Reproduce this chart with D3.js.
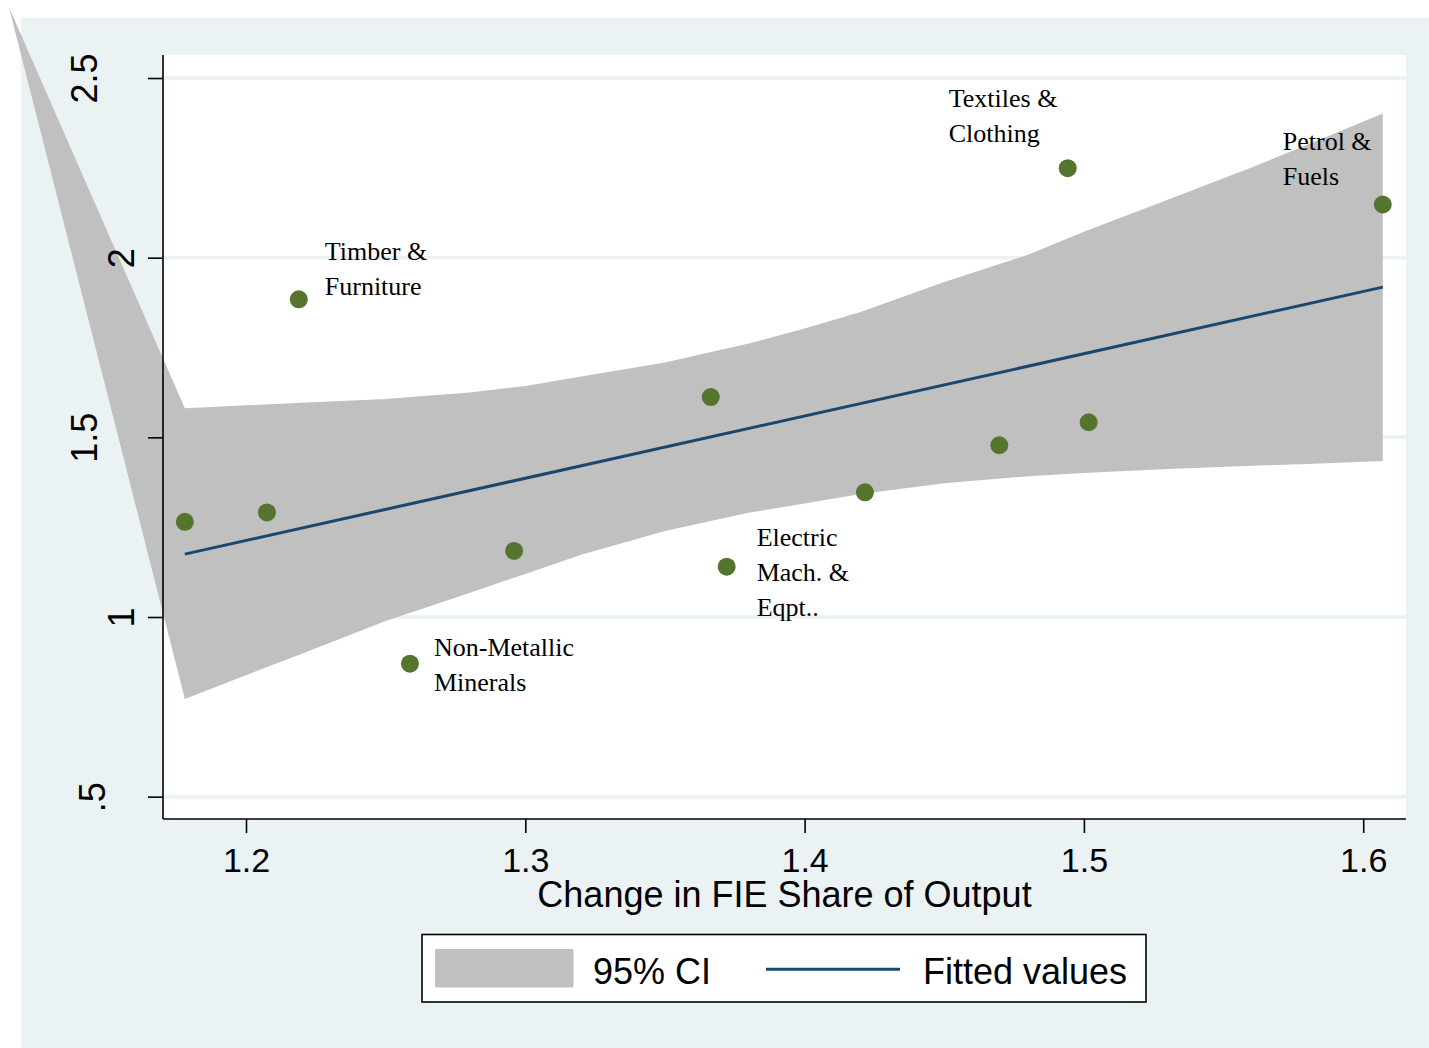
<!DOCTYPE html>
<html>
<head>
<meta charset="utf-8">
<script src="https://cdn.jsdelivr.net/npm/d3@7"></script>
<style>
  html, body { margin: 0; padding: 0; background: #ffffff; }
  svg { display: block; }
</style>
</head>
<body>
<script>
// ---- Industry observations ----
const industries = ["", "", "Timber &\nFurniture", "Non-Metallic\nMinerals", "", "",
  "Electric\nMach. &\nEqpt..", "", "", "Textiles &\nClothing", "", "Petrol &\nFuels"];
const fieShareChange = [1.1781, 1.2075, 1.2189, 1.2587, 1.2960, 1.3664, 1.3721, 1.4216, 1.4697, 1.4942, 1.5017, 1.6070];
const outcome = [1.265, 1.291, 1.884, 0.870, 1.184, 1.612, 1.140, 1.347, 1.478, 2.249, 1.542, 2.148];

// ---- Linear fit (end points) ----
const fitX = [1.1781, 1.6070];
const fitY = [1.175, 1.918];

// ---- 95% confidence band ----
const ciX = [1.1781, 1.20, 1.22, 1.25, 1.28, 1.30, 1.32, 1.35, 1.38, 1.40, 1.42, 1.45, 1.48, 1.50, 1.53, 1.56, 1.58, 1.6070];
const ciUpper = [1.581, 1.589, 1.596, 1.607, 1.625, 1.643, 1.669, 1.708, 1.761, 1.803, 1.849, 1.932, 2.008, 2.072, 2.161, 2.251, 2.314, 2.401];
const ciLower = [0.772, 0.838, 0.898, 0.989, 1.067, 1.120, 1.173, 1.239, 1.290, 1.316, 1.342, 1.372, 1.392, 1.401, 1.412, 1.421, 1.426, 1.434];
// closing vertex of the band outline
const ciApex = [1.1151, 2.698];

// ---- Axes ----
const xTicks = [1.2, 1.3, 1.4, 1.5, 1.6];
const xTickLabels = ["1.2", "1.3", "1.4", "1.5", "1.6"];
const yTicks = [0.5, 1, 1.5, 2, 2.5];
const yTickLabels = [".5", "1", "1.5", "2", "2.5"];
const xTitle = "Change in FIE Share of Output";
const legendLabels = ["95% CI", "Fitted values"];

// ---- Layout ----
const W = 1429, H = 1048;
const plot = { left: 163, right: 1406, top: 55, bottom: 819 };
const colors = {
  outer: "#eaf2f3", grid: "#eaf2f3", band: "#c0c0c0",
  fit: "#1a476f", marker: "#55752f", text: "#000000"
};
// marker label placement (offset of first baseline from the marker, px)
const labelPlacement = {
  "Timber &\nFurniture": { dx: 26, dy: -39 },
  "Non-Metallic\nMinerals": { dx: 24, dy: -8 },
  "Electric\nMach. &\nEqpt..": { dx: 30, dy: -21 },
  "Textiles &\nClothing": { dx: -119, dy: -61 },
  "Petrol &\nFuels": { dx: -100, dy: -55 }
};
const labelLineHeight = 35;
// baseline x of rotated y tick labels by label length
const yLabelBaseX = { 1: 133.5, 2: 105, 3: 97 };

const svg = d3.select("body").append("svg")
  .attr("width", W).attr("height", H)
  .attr("viewBox", `0 0 ${W} ${H}`);

// outer graph region
svg.append("rect").attr("x", 21).attr("y", 18)
  .attr("width", W - 21).attr("height", H - 18)
  .attr("fill", colors.outer);

// plot region
svg.append("rect")
  .attr("x", plot.left).attr("y", plot.top)
  .attr("width", plot.right - plot.left).attr("height", plot.bottom - plot.top)
  .attr("fill", "#ffffff");

const x = d3.scaleLinear().domain([1.17028, 1.61532]).range([plot.left, plot.right]);
const y = d3.scaleLinear().domain([0.4378, 2.5641]).range([plot.bottom, plot.top]);

// gridlines
svg.append("g").selectAll("line").data(yTicks).join("line")
  .attr("x1", plot.left).attr("x2", plot.right)
  .attr("y1", d => y(d)).attr("y2", d => y(d))
  .attr("stroke", colors.grid).attr("stroke-width", 3.5);

// confidence band
const bandPts = ciX.map((v, i) => [v, ciLower[i]])
  .concat(ciX.map((v, i) => [v, ciUpper[i]]).reverse())
  .concat([ciApex]);
const lineGen = d3.line().x(d => x(d[0])).y(d => y(d[1]));
svg.append("path")
  .attr("d", lineGen(bandPts) + "Z")
  .attr("fill", colors.band);

// fitted line
svg.append("path")
  .attr("d", lineGen(fitX.map((v, i) => [v, fitY[i]])))
  .attr("fill", "none").attr("stroke", colors.fit).attr("stroke-width", 3);

// markers
svg.append("g").selectAll("circle").data(fieShareChange).join("circle")
  .attr("cx", d => x(d)).attr("cy", (d, i) => y(outcome[i]))
  .attr("r", 9).attr("fill", colors.marker);

// marker labels
const lbl = svg.append("g")
  .attr("font-family", "'Liberation Serif', 'Times New Roman', serif")
  .attr("font-size", 26).attr("fill", colors.text);
industries.forEach((name, i) => {
  if (!name) return;
  const p = labelPlacement[name];
  const t = lbl.append("text")
    .attr("x", x(fieShareChange[i]) + p.dx)
    .attr("y", y(outcome[i]) + p.dy);
  name.split("\n").forEach((line, k) => {
    t.append("tspan")
      .attr("x", x(fieShareChange[i]) + p.dx)
      .attr("y", y(outcome[i]) + p.dy + k * labelLineHeight)
      .text(line);
  });
});

// x axis
const xAxis = svg.append("g")
  .attr("transform", `translate(0,${plot.bottom})`)
  .call(d3.axisBottom(x).tickValues(xTicks).tickSize(14).tickSizeOuter(0)
    .tickFormat((d, i) => xTickLabels[i]));
xAxis.select(".domain").attr("stroke", "#000").attr("stroke-width", 1.6)
  .attr("d", `M${plot.left},0H${plot.right}`);
xAxis.selectAll(".tick line").attr("stroke", "#000").attr("stroke-width", 1.6);
xAxis.selectAll(".tick text")
  .attr("y", 53).attr("dy", 0)
  .attr("font-family", "'Liberation Sans', Arial, sans-serif")
  .attr("font-size", 34).attr("fill", colors.text);

// y axis
const yAxis = svg.append("g")
  .attr("transform", `translate(${plot.left},0)`)
  .call(d3.axisLeft(y).tickValues(yTicks).tickSize(15).tickSizeOuter(0)
    .tickFormat((d, i) => yTickLabels[i]));
yAxis.select(".domain").attr("stroke", "#000").attr("stroke-width", 1.6)
  .attr("d", `M0,${plot.top}V${plot.bottom}`);
yAxis.selectAll(".tick line").attr("stroke", "#000").attr("stroke-width", 1.6);
yAxis.selectAll(".tick text")
  .attr("x", 0).attr("y", 0).attr("dy", 0)
  .attr("text-anchor", "middle")
  .attr("transform", (d, i) => `translate(${yLabelBaseX[yTickLabels[i].length] - plot.left},0) rotate(-90)`)
  .attr("font-family", "'Liberation Sans', Arial, sans-serif")
  .attr("font-size", 36).attr("fill", colors.text);

// x axis title
svg.append("text")
  .attr("x", (plot.left + plot.right) / 2).attr("y", 907)
  .attr("text-anchor", "middle")
  .attr("font-family", "'Liberation Sans', Arial, sans-serif")
  .attr("font-size", 36).attr("fill", colors.text)
  .text(xTitle);

// legend
const lg = svg.append("g");
lg.append("rect").attr("x", 422).attr("y", 934.5).attr("width", 724).attr("height", 67.5)
  .attr("fill", "#ffffff").attr("stroke", "#000").attr("stroke-width", 1.6);
lg.append("rect").attr("x", 435).attr("y", 949).attr("width", 138.5).attr("height", 38.5)
  .attr("rx", 1).attr("fill", colors.band);
lg.append("line").attr("x1", 766).attr("x2", 900).attr("y1", 969.3).attr("y2", 969.3)
  .attr("stroke", colors.fit).attr("stroke-width", 3);
lg.selectAll("text").data(legendLabels).join("text")
  .attr("x", (d, i) => i === 0 ? 593 : 923).attr("y", 983.5)
  .attr("font-family", "'Liberation Sans', Arial, sans-serif")
  .attr("font-size", 36).attr("fill", colors.text)
  .text(d => d);
</script>
</body>
</html>
